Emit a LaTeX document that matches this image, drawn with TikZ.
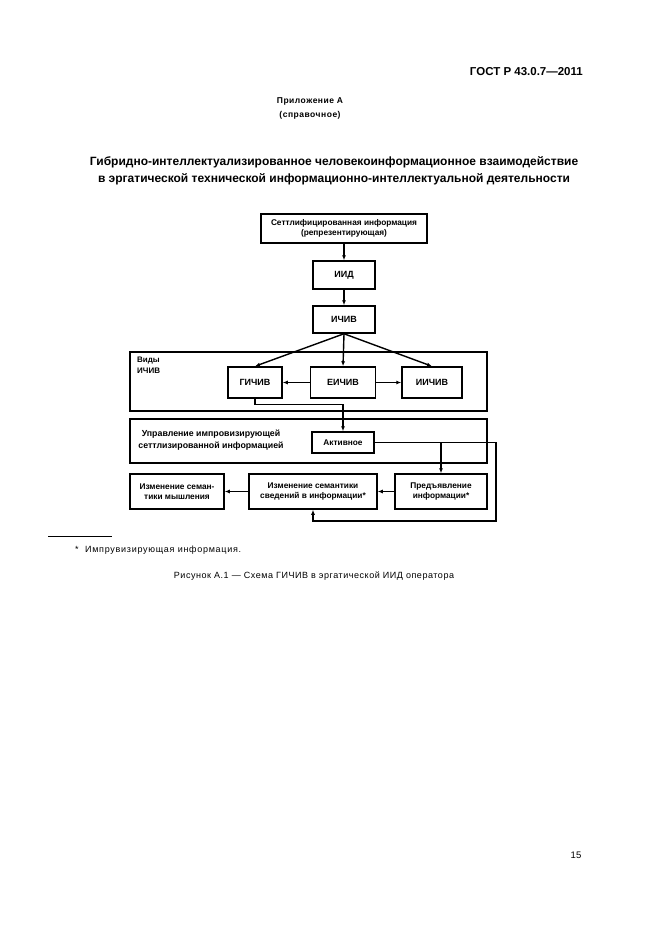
\documentclass[tikz,border=0pt]{standalone}
\usepackage{fontspec}
\setmainfont{Liberation Sans}
\usetikzlibrary{arrows.meta}
\begin{document}
\begin{tikzpicture}[x=1pt,y=-1pt,
  box/.style={draw,line width=1.5pt,rectangle,inner sep=1pt,align=center,font=\fontsize{8.3}{9.5}\selectfont\bfseries},
  bigbox/.style={box,font=\fontsize{9}{11}\selectfont\bfseries},
  frame/.style={draw,line width=1.5pt,rectangle,inner sep=0pt},
  conn/.style={line width=1.4pt},
  arr/.style={conn,-{Latex[length=5pt,width=4pt]}},
  txt/.style={inner sep=0pt,align=center}]
\useasboundingbox (0,0) rectangle (661,936);
% page texts
\node[txt,anchor=base east,font=\fontsize{11.5}{12}\selectfont\bfseries] (hdr) at (583,76) {ГОСТ Р 43.0.7—2011};
\node[txt,font=\fontsize{8.5}{14}\selectfont\bfseries\addfontfeature{LetterSpace=6}] (app) at (310,108) {Приложение А\\(справочное)};
\node[txt,font=\fontsize{12}{17}\selectfont\bfseries] (title) at (334,171) {Гибридно-интеллектуализированное человекоинформационное взаимодействие\\в эргатической технической информационно-интеллектуальной деятельности};
% frames
\node[frame,minimum width=357pt,minimum height=59pt] (f1) at (308.5,381.5) {};
\node[frame,minimum width=357pt,minimum height=44pt] (f2) at (308.5,441) {};
\node[txt,anchor=north west,align=left,font=\fontsize{8}{11}\selectfont\bfseries] (vidy) at (137,357) {Виды\\ИЧИВ};
\node[txt,font=\fontsize{8.8}{12.5}\selectfont\bfseries] (upr) at (211,440) {Управление импровизирующей\\сеттлизированной информацией};
% boxes
\node[box,minimum width=166pt,minimum height=29pt] (b0) at (344,228.5) {Сеттлифицированная информация\\(репрезентирующая)};
\node[bigbox,minimum width=62pt,minimum height=28pt] (iid) at (344,275) {ИИД};
\node[bigbox,minimum width=62pt,minimum height=27pt] (ichiv) at (344,319.5) {ИЧИВ};
\node[bigbox,minimum width=54pt,minimum height=31pt] (gichiv) at (255,382.5) {ГИЧИВ};
\node[bigbox,minimum width=65pt,minimum height=31pt] (eichiv) at (343,382.5) {ЕИЧИВ};
\node[bigbox,minimum width=60pt,minimum height=31pt] (iichiv) at (432,382.5) {ИИЧИВ};
\node[box,minimum width=62pt,minimum height=21pt] (akt) at (343,442.5) {Активное};
\node[box,minimum width=94pt,minimum height=35pt] (b1) at (177,491.5) {Изменение семан-\\тики мышления};
\node[box,minimum width=128pt,minimum height=35pt] (b2) at (313,491.5) {Изменение семантики\\сведений в информации*};
\node[box,minimum width=92pt,minimum height=35pt] (b3) at (441,491.5) {Предъявление\\информации*};
\coordinate (cr) at (496,521);
% connectors
\draw[arr] (b0) -- (iid);
\draw[arr] (iid) -- (ichiv);
\draw[arr] (ichiv.south) -- (gichiv.north);
\draw[arr] (ichiv.south) -- (eichiv.north);
\draw[arr] (ichiv.south) -- (iichiv.north);
\draw[arr] (eichiv) -- (gichiv);
\draw[arr] (eichiv) -- (iichiv);
\draw[arr] (gichiv.south) -- ++(0,6) -| (akt.north);
\draw[arr] (akt.east) -| (cr) -| (b2.south);
\draw[arr] (b3.north |- akt.east) -- (b3.north);
\draw[arr] (b3) -- (b2);
\draw[arr] (b2) -- (b1);
% footnote and caption
\draw[line width=0.6pt] (48,536) coordinate (fl) -- (112,536) coordinate (fr);
\node[txt,anchor=base west,font=\fontsize{9}{10}\selectfont\addfontfeature{LetterSpace=8}] (fn) at (75,552) {*\ \ Импрувизирующая информация.};
\node[txt,anchor=base,font=\fontsize{9}{10}\selectfont\addfontfeature{LetterSpace=6}] (cap) at (314,578) {Рисунок А.1 — Схема ГИЧИВ в эргатической ИИД оператора};
\node[txt,anchor=base,font=\fontsize{9.5}{10}\selectfont] (pg) at (576,858) {15};
\end{tikzpicture}
\end{document}
